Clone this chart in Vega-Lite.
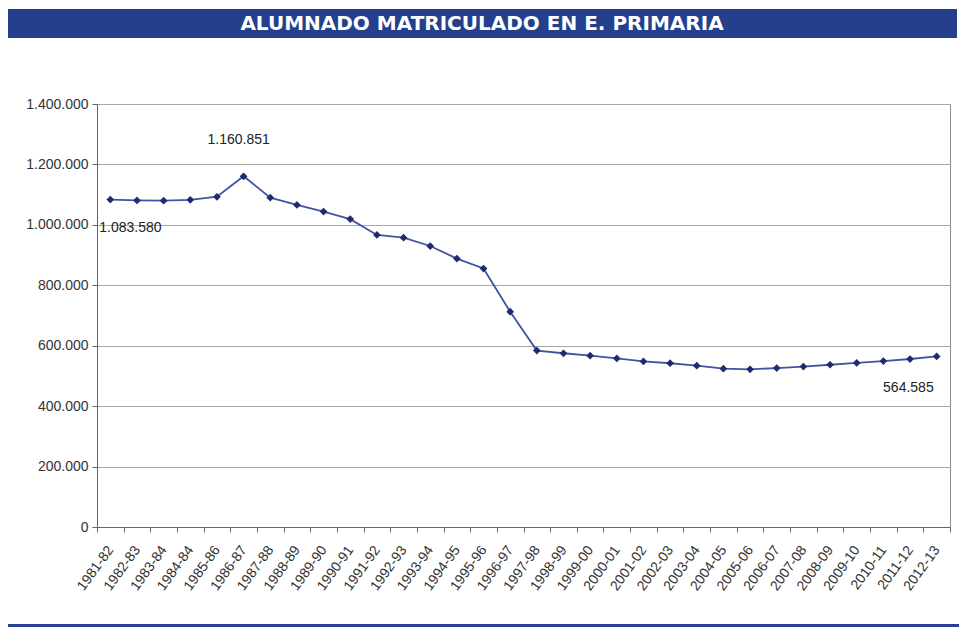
{
  "$schema": "https://vega.github.io/schema/vega-lite/v6.json",
  "padding": {"left": 8, "top": 9, "right": 0, "bottom": 1},
  "bounds": "flush",
  "align": "each",
  "columns": 2,
  "spacing": {"row": 66, "column": 0},
  "config": {
    "locale": {"number": {"decimal": ",", "thousands": ".", "grouping": [3], "currency": ["", " €"]}},
    "font": "Liberation Sans",
    "view": {"stroke": null}
  },
  "datasets": {
    "enrol": [
      {"curso": "1981-82", "alumnos": 1083580},
      {"curso": "1982-83", "alumnos": 1081000},
      {"curso": "1983-84", "alumnos": 1080000},
      {"curso": "1984-84", "alumnos": 1083000},
      {"curso": "1985-86", "alumnos": 1093000},
      {"curso": "1986-87", "alumnos": 1160851},
      {"curso": "1987-88", "alumnos": 1090000},
      {"curso": "1988-89", "alumnos": 1066000},
      {"curso": "1989-90", "alumnos": 1044000},
      {"curso": "1990-91", "alumnos": 1019000},
      {"curso": "1991-92", "alumnos": 966500},
      {"curso": "1992-93", "alumnos": 957500},
      {"curso": "1993-94", "alumnos": 930000},
      {"curso": "1994-95", "alumnos": 888500},
      {"curso": "1995-96", "alumnos": 855500},
      {"curso": "1996-97", "alumnos": 712500},
      {"curso": "1997-98", "alumnos": 584000},
      {"curso": "1998-99", "alumnos": 575000},
      {"curso": "1999-00", "alumnos": 567000},
      {"curso": "2000-01", "alumnos": 558000},
      {"curso": "2001-02", "alumnos": 548000},
      {"curso": "2002-03", "alumnos": 542000},
      {"curso": "2003-04", "alumnos": 534000},
      {"curso": "2004-05", "alumnos": 524000},
      {"curso": "2005-06", "alumnos": 522000},
      {"curso": "2006-07", "alumnos": 526000},
      {"curso": "2007-08", "alumnos": 531000},
      {"curso": "2008-09", "alumnos": 537000},
      {"curso": "2009-10", "alumnos": 543000},
      {"curso": "2010-11", "alumnos": 549000},
      {"curso": "2011-12", "alumnos": 556000},
      {"curso": "2012-13", "alumnos": 564585}
    ]
  },
  "concat": [
    {
      "width": 89,
      "height": 29,
      "view": {"fill": "#243f8c", "stroke": null},
      "data": {"values": [{}]},
      "mark": {"type": "text"},
      "encoding": {"text": {"value": ""}}
    },
    {
      "width": 860,
      "height": 29,
      "view": {"fill": "#243f8c", "stroke": null},
      "data": {"values": [{"t": "ALUMNADO MATRICULADO EN E. PRIMARIA"}]},
      "mark": {"type": "text", "font": "DejaVu Sans", "fontWeight": "bold", "fontSize": 20, "color": "#ffffff", "align": "center", "baseline": "middle", "dx": -45},
      "encoding": {"text": {"field": "t"}}
    },
    {
      "width": 89,
      "height": 454,
      "view": {"stroke": null},
      "data": {"values": [{}]},
      "mark": {"type": "text"},
      "encoding": {"text": {"value": ""}}
    },
    {
      "width": 853,
      "height": 423,
      "view": {"stroke": "#8a8a8a", "strokeWidth": 1},
      "data": {"name": "enrol"},
      "encoding": {
        "x": {
          "field": "curso",
          "type": "ordinal",
          "sort": null,
          "scale": {"type": "band", "paddingInner": 0, "paddingOuter": 0},
          "axis": {
            "title": null,
            "labelAngle": -54,
            "labelAlign": "right",
            "labelBaseline": "middle",
            "tickBand": "extent",
            "tickSize": 5,
            "labelPadding": 15,
            "domainColor": "#666666",
            "tickColor": "#666666",
            "labelColor": "#333333",
            "labelFontSize": 14,
            "labelOverlap": false,
            "grid": false
          }
        },
        "y": {
          "field": "alumnos",
          "type": "quantitative",
          "scale": {"domain": [0, 1400000], "nice": false},
          "axis": {
            "title": null,
            "values": [0, 200000, 400000, 600000, 800000, 1000000, 1200000, 1400000],
            "format": ",d",
            "tickSize": 5,
            "labelPadding": 4,
            "grid": true,
            "gridColor": "#a6a6a6",
            "domainColor": "#666666",
            "tickColor": "#666666",
            "labelColor": "#333333",
            "labelFontSize": 14
          }
        }
      },
      "layer": [
        {"mark": {"type": "line", "color": "#4253a5", "strokeWidth": 1.8}},
        {"mark": {"type": "point", "shape": "diamond", "filled": true, "size": 60, "color": "#1f2b6c", "opacity": 1}},
        {
          "transform": [{"filter": "datum.curso == '1986-87'"}],
          "mark": {"type": "text", "align": "center", "baseline": "middle", "dx": -5, "dy": -36, "fontSize": 14, "color": "#222222"},
          "encoding": {"text": {"field": "alumnos", "type": "quantitative", "format": ",d"}}
        },
        {
          "transform": [{"filter": "datum.curso == '1981-82'"}],
          "mark": {"type": "text", "align": "left", "baseline": "middle", "dx": -11, "dy": 28, "fontSize": 14, "color": "#222222"},
          "encoding": {"text": {"field": "alumnos", "type": "quantitative", "format": ",d"}}
        },
        {
          "transform": [{"filter": "datum.curso == '2012-13'"}],
          "mark": {"type": "text", "align": "right", "baseline": "middle", "dx": -3, "dy": 32, "fontSize": 14, "color": "#222222"},
          "encoding": {"text": {"field": "alumnos", "type": "quantitative", "format": ",d"}}
        }
      ]
    },
    {
      "width": 89,
      "height": 3,
      "view": {"fill": "#28418f", "stroke": null},
      "data": {"values": [{}]},
      "mark": {"type": "text"},
      "encoding": {"text": {"value": ""}}
    },
    {
      "width": 862,
      "height": 3,
      "view": {"fill": "#28418f", "stroke": null},
      "data": {"values": [{}]},
      "mark": {"type": "text"},
      "encoding": {"text": {"value": ""}}
    }
  ]
}
